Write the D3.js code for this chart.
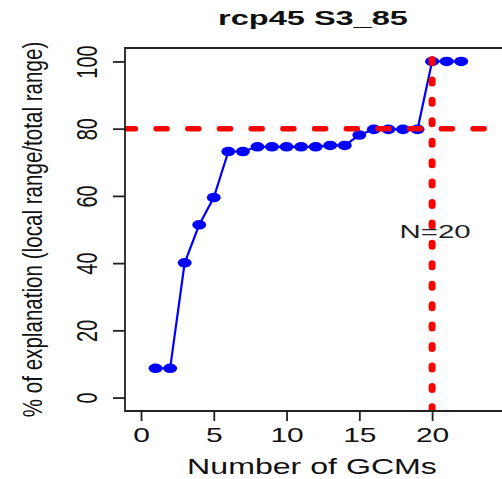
<!DOCTYPE html>
<html>
<head>
<meta charset="utf-8">
<script src="https://cdn.jsdelivr.net/npm/d3@7"></script>
<style>
  html, body { margin: 0; padding: 0; background: #fff; }
  svg { display: block; font-family: "Liberation Sans", Arial, Helvetica, sans-serif; }
</style>
</head>
<body>
<svg id="chart" width="502" height="479"></svg>
<script>
// ---- data ----
const gcms = [1,2,3,4,5,6,7,8,9,10,11,12,13,14,15,16,17,18,19,20,21,22];
const explanation = [8.7, 8.7, 40.1, 51.4, 59.5, 73.2, 73.2, 74.6, 74.6, 74.6, 74.6, 74.6, 75.0, 75.0, 78.1, 79.8, 79.8, 79.8, 79.8, 100, 100, 100];
const xTicks = [0, 5, 10, 15, 20];
const yTicks = [0, 20, 40, 60, 80, 100];
const thresholdPct = 80;
const chosenN = 20;
const titleText = "rcp45 S3_85";
const xLabel = "Number of GCMs";
const yLabel = "% of explanation (local range/total range)";
const nLabel = "N=20";

// ---- layout ----
const svg = d3.select("#chart");
const plot = { left: 125, right: 520, top: 48, bottom: 411 };
const x = d3.scaleLinear().domain([-1.1, 26.04]).range([plot.left, plot.right]);
const y = d3.scaleLinear().domain([-4, 104]).range([plot.bottom, plot.top]);
const stretch = 1.5;
const textColor = "#111";

// clip for plot region
svg.append("defs").append("clipPath").attr("id", "clip")
  .append("rect").attr("x", plot.left).attr("y", plot.top)
  .attr("width", plot.right - plot.left).attr("height", plot.bottom - plot.top);

// ---- series line + points ----
const pts = gcms.map((g, i) => [g, explanation[i]]);
const gData = svg.append("g").attr("clip-path", "url(#clip)");
gData.append("path")
  .datum(pts)
  .attr("fill", "none")
  .attr("stroke", "#0000ff")
  .attr("stroke-width", 2.2)
  .attr("d", d3.line().x(d => x(d[0])).y(d => y(d[1])));
gData.selectAll("ellipse.pt").data(pts).join("ellipse")
  .attr("class", "pt")
  .attr("cx", d => x(d[0]))
  .attr("cy", d => y(d[1]))
  .attr("rx", 7)
  .attr("ry", 4.8)
  .attr("fill", "#0000ff");

// ---- reference lines ----
gData.append("line")
  .attr("x1", plot.left).attr("x2", plot.right)
  .attr("y1", y(thresholdPct)).attr("y2", y(thresholdPct))
  .attr("stroke", "#ff0000").attr("stroke-width", 5.5)
  .attr("stroke-linecap", "round")
  .attr("stroke-dasharray", "11 20.7")
  .attr("stroke-dashoffset", 0.6);
gData.append("line")
  .attr("x1", x(chosenN)).attr("x2", x(chosenN))
  .attr("y1", plot.top).attr("y2", plot.bottom)
  .attr("stroke", "#ff0000").attr("stroke-width", 7)
  .attr("stroke-linecap", "round")
  .attr("stroke-dasharray", "3 17.43")
  .attr("stroke-dashoffset", 8.93);

// ---- N label ----
svg.append("text")
  .attr("transform", `translate(${x(chosenN) + 3},${y(50) + 8.5}) scale(1.55,1)`)
  .attr("text-anchor", "middle")
  .attr("font-size", 19)
  .attr("fill", "#222")
  .text(nLabel);

// ---- frame (left, top, bottom; right edge lies beyond the image) ----
svg.append("path")
  .attr("d", `M${plot.right},${plot.top}H${plot.left}V${plot.bottom}H${plot.right}`)
  .attr("fill", "none")
  .attr("stroke", "#222")
  .attr("stroke-width", 1.8);

// ---- axes ----
const xAxis = svg.append("g")
  .attr("transform", `translate(0,${plot.bottom})`)
  .call(d3.axisBottom(x).tickValues(xTicks).tickSize(10).tickSizeOuter(0));
xAxis.select(".domain").remove();
xAxis.selectAll(".tick line").attr("stroke", "#222").attr("stroke-width", 1.8);
xAxis.selectAll(".tick text")
  .attr("y", 0).attr("dy", null)
  .attr("transform", `translate(0,31) scale(${stretch},1)`)
  .attr("font-size", 20)
  .attr("font-family", "Liberation Sans, Arial, sans-serif")
  .attr("fill", textColor);

const yAxis = svg.append("g")
  .attr("transform", `translate(${plot.left},0)`)
  .call(d3.axisLeft(y).tickValues(yTicks).tickSize(12).tickSizeOuter(0));
yAxis.select(".domain").remove();
yAxis.selectAll(".tick line").attr("stroke", "#222").attr("stroke-width", 1.8);
yAxis.selectAll(".tick text")
  .attr("x", 0).attr("dy", null).attr("y", 0)
  .attr("text-anchor", "middle")
  .attr("transform", `translate(-28.5,0) scale(${stretch},1) rotate(-90)`)
  .attr("font-size", 20)
  .attr("font-family", "Liberation Sans, Arial, sans-serif")
  .attr("fill", textColor);

// ---- titles ----
svg.append("text")
  .attr("transform", `translate(313,25) scale(1.55,1)`)
  .attr("text-anchor", "middle")
  .attr("font-size", 21)
  .attr("font-weight", "bold")
  .attr("fill", textColor)
  .text(titleText);

svg.append("text")
  .attr("transform", `translate(312,474) scale(1.46,1)`)
  .attr("text-anchor", "middle")
  .attr("font-size", 22)
  .attr("fill", textColor)
  .text(xLabel);

svg.append("text")
  .attr("transform", `translate(42,${(plot.top + plot.bottom) / 2}) scale(1.35,1) rotate(-90)`)
  .attr("text-anchor", "middle")
  .attr("font-size", 20.6)
  .attr("fill", textColor)
  .text(yLabel);
</script>
</body>
</html>
